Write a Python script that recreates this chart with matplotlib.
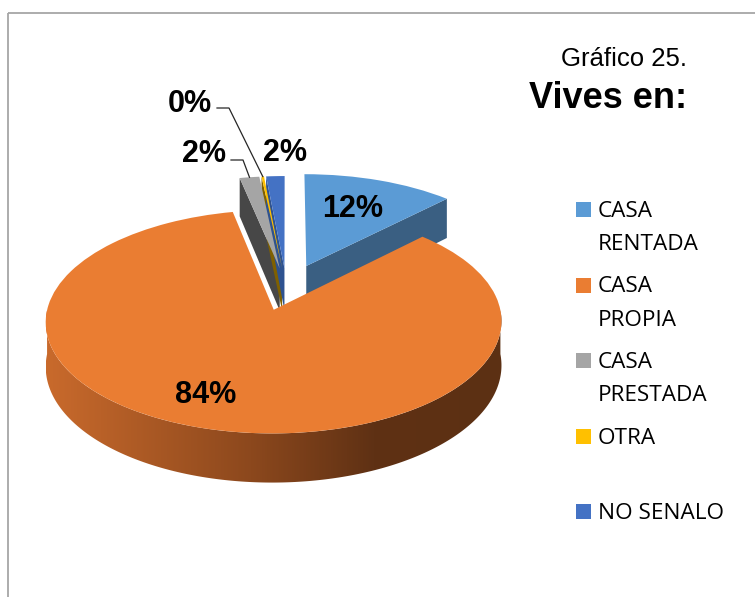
import numpy as np
import matplotlib
matplotlib.use('Agg')
import matplotlib.pyplot as plt
from matplotlib.transforms import Transform
from matplotlib.patches import Polygon, Rectangle
from matplotlib.colors import LinearSegmentedColormap

# datos del grafico 25
categorias = ["CASA RENTADA", "CASA PROPIA", "CASA PRESTADA", "OTRA", "NO SENALO"]
leyenda = ["CASA\nRENTADA", "CASA\nPROPIA", "CASA\nPRESTADA", "OTRA", "NO SENALO"]
porcentajes = [12.4, 84.4, 1.6, 0.2, 1.5]
colores = ['#5b9bd5', '#ea7d32', '#a5a5a5', '#ffc000', '#4472c4']
colores_lado = ['#3a5f82', '#9a4f20', '#474747', '#7f6000', '#2e5290']
separacion = [0.24, 0.2, 0.2, 0.2, 0.2]

# plano inclinado del pastel (en pixeles)
CX, CY, A, B, K = 286.5, 289.0, 222.0, 106.0, 0.105
PROF = 43.0


class Inclinado(Transform):
    input_dims = 2
    output_dims = 2
    is_separable = False
    has_inverse = False

    def transform_non_affine(self, xy):
        xy = np.asarray(xy, float)
        x, y = xy[:, 0], xy[:, 1]
        s = 1.0 / (1.0 + K * y)
        return np.column_stack([CX + A * x * s, CY - B * y * s])


tilt = Inclinado()


def cara(xs, ys):
    xs = np.asarray(xs, float)
    ys = np.asarray(ys, float)
    p = tilt.transform(np.column_stack([xs, ys]))
    q = p.copy()
    q[:, 1] += PROF / (1.0 + K * ys)
    return np.vstack([p, q[::-1]])


fig = plt.figure(figsize=(7.55, 5.97), dpi=100)
ax = fig.add_axes([0, 0, 1, 1])

wedges, _ = ax.pie(porcentajes, colors=colores, startangle=90, counterclock=False,
                   explode=separacion, wedgeprops=dict(linewidth=0))

for i, w in enumerate(wedges):
    w.set_transform(tilt + ax.transData)
    w.set_zorder(5 if i == 1 else 3)
    cx, cy = w.center
    r = w.r
    t1, t2 = w.theta1, w.theta2
    z = 4 if i == 1 else 2
    # caras radiales visibles
    for t, ok in ((t1, np.cos(np.radians(t1)) > 1e-6), (t2, np.cos(np.radians(t2)) < -1e-6)):
        if ok:
            tr = np.radians(t)
            v = cara([cx, cx + r * np.cos(tr)], [cy, cy + r * np.sin(tr)])
            ax.add_patch(Polygon(v, closed=True, facecolor=colores_lado[i],
                                 edgecolor='none', zorder=z))
    # borde exterior visible
    th = np.radians(np.linspace(t1, t2, 400))
    vis = np.sin(th) < 0
    if vis.sum() > 2:
        th = th[vis]
        v = cara(cx + r * np.cos(th), cy + r * np.sin(th))
        if i == 1:
            poly = Polygon(v, closed=True, facecolor='none', edgecolor='none')
            ax.add_patch(poly)
            cmap = LinearSegmentedColormap.from_list(
                'lado', [(0.0, '#c96a2c'), (0.45, '#8c481d'), (0.72, '#5f3114'), (1.0, '#5c3013')])
            grad = np.linspace(0, 1, 256).reshape(1, -1)
            im = ax.imshow(grad, cmap=cmap, aspect='auto', zorder=z,
                           extent=(v[:, 0].min(), v[:, 0].max(), v[:, 1].max(), v[:, 1].min()))
            im.set_clip_path(poly)
        else:
            ax.add_patch(Polygon(v, closed=True, facecolor=colores_lado[i],
                                 edgecolor='none', zorder=z))

ax.set_aspect('auto')
ax.set_xlim(0, 755)
ax.set_ylim(597, 0)
ax.axis('off')

# marco
ax.add_patch(Rectangle((8, 13), 800, 700, fill=False, edgecolor='#a6a6a6',
                       linewidth=1.3, clip_on=False, zorder=1))

# etiquetas de porcentaje
etiquetas = [f"{v:.0f}%" for v in porcentajes]
pos_etiquetas = [(322, 217), (175, 403), (182, 162), (168, 112), (263, 161)]
for txt, (x, y) in zip(etiquetas, pos_etiquetas):
    ax.text(x, y, txt, fontsize=22, fontweight='bold', family='Liberation Sans',
            ha='left', va='baseline', color='black', zorder=7)

# lineas guia para CASA PRESTADA y OTRA
for i, (x0, y0) in ((2, (231, 160)), (3, (217, 108))):
    w = wedges[i]
    tm = np.radians(0.5 * (w.theta1 + w.theta2))
    px, py = tilt.transform(np.array([[w.center[0] + w.r * np.cos(tm),
                                        w.center[1] + w.r * np.sin(tm)]]))[0]
    ax.plot([x0, x0 + 12, px], [y0, y0, py], color='#262626', linewidth=0.9, zorder=7)

# titulo
ax.text(687, 66, "Gráfico 25.", fontsize=18.5, family='Liberation Sans',
        ha='right', va='baseline')
ax.text(687, 108, "Vives en:", fontsize=26, fontweight='bold', family='Liberation Sans',
        ha='right', va='baseline')

# leyenda
for i, lab in enumerate(leyenda):
    y0 = 217 + 75.5 * i
    ax.add_patch(Rectangle((576, y0 - 15), 15, 15, facecolor=colores[i],
                           edgecolor='none', zorder=7))
    for j, linea in enumerate(lab.split("\n")):
        ax.text(598, y0 + 33 * j, linea, fontsize=16.2, family='Open Sans',
                ha='left', va='baseline', color='black')

fig.savefig('out.png', dpi=100)
